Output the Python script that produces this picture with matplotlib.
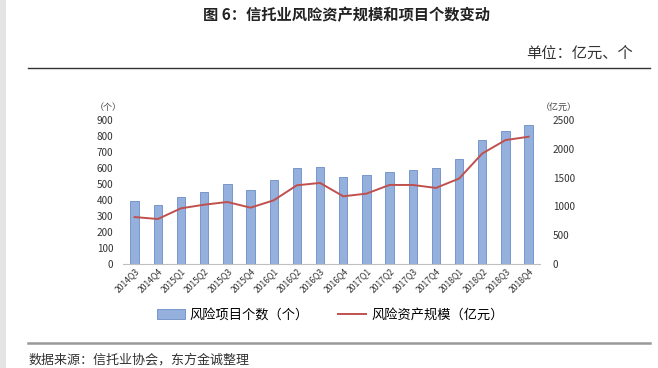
import matplotlib
matplotlib.use('Agg')
import matplotlib.pyplot as plt
from matplotlib.lines import Line2D
from matplotlib.patches import Patch, Rectangle

plt.rcParams['font.family'] = ['Noto Sans CJK SC', 'DejaVu Sans']

quarters = ['2014Q3', '2014Q4', '2015Q1', '2015Q2', '2015Q3', '2015Q4',
            '2016Q1', '2016Q2', '2016Q3', '2016Q4', '2017Q1', '2017Q2',
            '2017Q3', '2017Q4', '2018Q1', '2018Q2', '2018Q3', '2018Q4']
# risk project count (left axis)
project_count = [391, 368, 420, 450, 500, 462, 525, 598, 604, 542, 556, 574,
                 590, 597, 656, 772, 830, 869]
# risk asset scale, 100m yuan (right axis)
asset_scale = [813, 779, 965, 1028, 1075, 976, 1104, 1365, 1406, 1174, 1220,
               1371, 1371, 1319, 1482, 1918, 2150, 2209]

fig = plt.figure(figsize=(6.58, 3.68), dpi=100)
ax = fig.add_axes([0.187, 0.283, 0.634, 0.391])
ax2 = ax.twinx()

x = range(len(quarters))
ax.bar(x, project_count, width=0.36, color='#95b0dc', edgecolor='#6a8cc6',
       linewidth=0.6, zorder=2)
ax2.plot(x, asset_scale, color='#c0504d', linewidth=1.4, zorder=3)

ax.set_xlim(-0.5, len(quarters) - 0.5)
ax.set_ylim(0, 900)
ax.set_yticks(range(0, 901, 100))
ax2.set_ylim(0, 2500)
ax2.set_yticks(range(0, 2501, 500))

for a in (ax, ax2):
    for s in a.spines.values():
        s.set_visible(False)
    a.tick_params(length=0, labelsize=7.2, colors='#333333')
ax.spines['bottom'].set_visible(True)
ax.spines['bottom'].set_color('#bfbfbf')
ax.set_xticks(list(x))
ax.set_xticklabels(quarters, rotation=45, ha='right', rotation_mode='anchor',
                   fontsize=6.2)
ax.tick_params(axis='x', pad=2)
ax.tick_params(axis='y', pad=7)
ax2.tick_params(axis='y', pad=9)

fig.text(0.144, 0.709, '（个）', fontsize=6.5, va='center', color='#444444')
fig.text(0.822, 0.707, '（亿元）', fontsize=6.5, va='center', color='#444444')

# page decorations
fig.add_artist(Rectangle((0, 0), 0.009, 1, transform=fig.transFigure,
                         facecolor='#e4e4e4', edgecolor='none'))
fig.text(0.526, 0.958, '图 6：信托业风险资产规模和项目个数变动', fontsize=11,
         fontweight='bold', ha='center', va='center', color='#222222')
fig.text(0.881, 0.856, '单位：亿元、个', fontsize=11, ha='center', va='center',
         color='#333333')
fig.add_artist(Line2D([0.043, 0.988], [0.815, 0.815], color='#333333', lw=1.0))
fig.add_artist(Line2D([0.043, 0.988], [0.068, 0.068], color='#999999', lw=1.8))
fig.text(0.043, 0.022, '数据来源：信托业协会，东方金诚整理', fontsize=9.4,
         va='center', color='#333333')

handles = [Patch(facecolor='#95b0dc', edgecolor='#6a8cc6', linewidth=0.6),
           Line2D([0], [0], color='#c0504d', lw=1.4)]
fig.legend(handles, ['风险项目个数（个）', '风险资产规模（亿元）'],
           loc='center', bbox_to_anchor=(0.502, 0.144), ncol=2, frameon=False,
           fontsize=9.5, handlelength=2.1, handleheight=0.7, columnspacing=2.2,
           handletextpad=0.4)

fig.savefig('out.png', dpi=100)
